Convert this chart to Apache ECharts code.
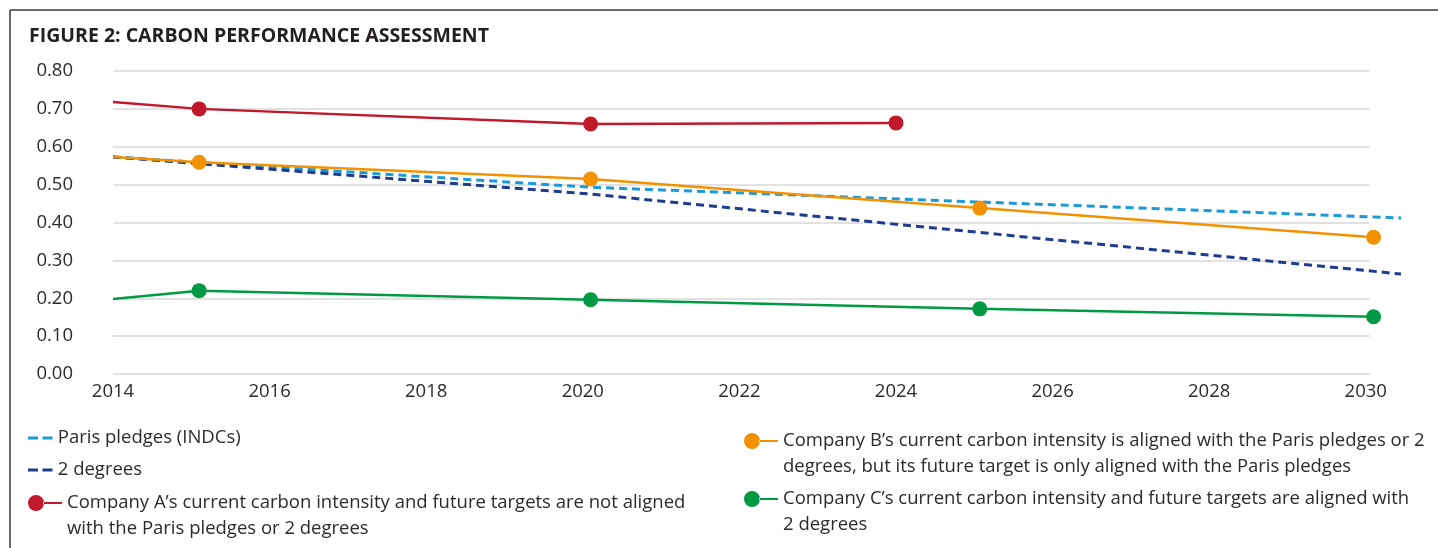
<!DOCTYPE html>
<html>
<head>
<meta charset="utf-8">
<title>Carbon performance assessment</title>
<script src="https://cdn.jsdelivr.net/npm/echarts@6/dist/echarts.min.js"></script>
<style>
    html, body { margin: 0; padding: 0; background: #fff; }
    #chart { width: 1438px; height: 548px; }
</style>
</head>
<body>
<div id="chart"></div>
<script>
    // values (x = year, y = carbon intensity)
    var yTicks = [0, 0.1, 0.2, 0.3, 0.4, 0.5, 0.6, 0.7, 0.8];

    var parisYears = [2014, 2020.1, 2030.45];
    var parisValues = [0.573, 0.493, 0.412];

    var twoDegYears = [2014, 2020.1, 2030.45];
    var twoDegValues = [0.573, 0.475, 0.264];

    var companyAYears = [2014, 2015.1, 2020.1, 2024];
    var companyAValues = [0.718, 0.70, 0.66, 0.663];

    var companyBYears = [2014, 2015.1, 2020.1, 2025.07, 2030.1];
    var companyBValues = [0.573, 0.559, 0.515, 0.438, 0.361];

    var companyCYears = [2014, 2015.1, 2020.1, 2025.07, 2030.1];
    var companyCValues = [0.198, 0.22, 0.196, 0.172, 0.151];

    var seriesNames = ['Paris pledges (INDCs)', '2 degrees', 'Company A', 'Company B', 'Company C'];
    var legendTexts = [
        'Paris pledges (INDCs)',
        '2 degrees',
        'Company A’s current carbon intensity and future targets are not aligned\nwith the Paris pledges or 2 degrees',
        'Company B’s current carbon intensity is aligned with the Paris pledges or 2\ndegrees, but its future target is only aligned with the Paris pledges',
        'Company C’s current carbon intensity and future targets are aligned with\n2 degrees'
    ];

    function pairs(xs, ys) {
        return xs.map(function (x, i) { return [x, ys[i]]; });
    }

    var font = '"Open Sans", Lato, sans-serif';
    var textColor = '#2b2b2b';
    var textSize = 18.5;
    var dashIcon = 'path://M0,0H10V3H0ZM14.5,0H24.5V3H14.5Z';
    var dotIcon = 'path://M0,8a8,8 0 1,0 16,0a8,8 0 1,0 -16,0ZM15,7H34V9H15Z';

    function legendBox(i, left, top, icon, w, h) {
        var multi = legendTexts[i].indexOf('\n') >= 0;
        return {
            data: [seriesNames[i]],
            left: left,
            top: top,
            padding: 0,
            icon: icon,
            itemWidth: w,
            itemHeight: h,
            itemGap: 0,
            selectedMode: false,
            itemStyle: { borderWidth: 0 },
            formatter: function () {
                // leading blank line keeps the icon level with the first text line
                return multi ? '\n' + legendTexts[i] : legendTexts[i];
            },
            textStyle: { fontFamily: font, fontSize: textSize, color: textColor, lineHeight: 26 }
        };
    }

    function companySeries(name, color, xs, ys) {
        return {
            name: name,
            type: 'line',
            data: pairs(xs, ys),
            color: color,
            symbol: 'circle',
            symbolSize: function (v, p) { return p.dataIndex === 0 ? 0 : 15; },
            lineStyle: { color: color, width: 2.5 },
            itemStyle: { color: color, borderWidth: 0 },
            z: 4
        };
    }

    var chart = echarts.init(document.getElementById('chart'));
    chart.setOption({
        animation: false,
        title: {
            text: 'FIGURE 2: CARBON PERFORMANCE ASSESSMENT',
            left: 29,
            top: 26,
            padding: 0,
            textStyle: { fontFamily: font, fontSize: 19.5, fontWeight: 'bold', color: '#231f20' }
        },
        graphic: [
            {
                type: 'line',
                silent: true,
                shape: { x1: 10, y1: 10, x2: 1438, y2: 10 },
                style: { stroke: '#3a3a3a', lineWidth: 1.5 }
            },
            {
                type: 'line',
                silent: true,
                shape: { x1: 10, y1: 10, x2: 10, y2: 548 },
                style: { stroke: '#3a3a3a', lineWidth: 1.5 }
            }
        ],
        legend: [
            legendBox(0, 28, 425, dashIcon, 25, 3),
            legendBox(1, 28, 457, dashIcon, 25, 3),
            legendBox(2, 28, 464, dotIcon, 34, 16),
            legendBox(3, 744, 402, dotIcon, 34, 16),
            legendBox(4, 744, 460, dotIcon, 34, 16)
        ],
        grid: { left: 113, right: 37, top: 71, bottom: 174, outerBoundsMode: 'none' },
        xAxis: {
            type: 'value',
            min: 2014,
            max: 2030.45,
            interval: 2,
            axisLine: { show: false },
            axisTick: { show: false },
            splitLine: { show: false },
            axisLabel: {
                margin: 8,
                fontFamily: font,
                fontSize: textSize,
                color: textColor,
                formatter: function (v) { return v % 2 === 0 ? String(v) : ''; }
            }
        },
        yAxis: {
            type: 'value',
            min: 0,
            max: 0.8,
            interval: 0.1,
            axisLine: { show: false },
            axisTick: { show: false },
            splitLine: { show: false },
            axisLabel: {
                margin: 40,
                fontFamily: font,
                fontSize: textSize,
                color: textColor,
                formatter: function (v) { return v.toFixed(2); }
            }
        },
        series: [
            {
                name: seriesNames[0],
                type: 'line',
                data: pairs(parisYears, parisValues),
                color: '#1b9ad8',
                symbol: 'none',
                lineStyle: { color: '#1b9ad8', width: 3, type: [8, 5] },
                z: 2,
                // horizontal gridlines, ending short of the dashed lines like the original
                markLine: {
                    silent: true,
                    symbol: 'none',
                    label: { show: false },
                    lineStyle: { color: '#d9d9d9', width: 1.5, type: 'solid' },
                    z: 1,
                    data: yTicks.map(function (v) {
                        return [{ coord: [2014, v] }, { coord: [2030.05, v] }];
                    })
                }
            },
            {
                name: seriesNames[1],
                type: 'line',
                data: pairs(twoDegYears, twoDegValues),
                color: '#1f3c8f',
                symbol: 'none',
                lineStyle: { color: '#1f3c8f', width: 3, type: [8, 5] },
                z: 3
            },
            companySeries(seriesNames[2], '#c1182b', companyAYears, companyAValues),
            companySeries(seriesNames[3], '#f39200', companyBYears, companyBValues),
            companySeries(seriesNames[4], '#009a44', companyCYears, companyCValues)
        ]
    });
</script>
</body>
</html>
